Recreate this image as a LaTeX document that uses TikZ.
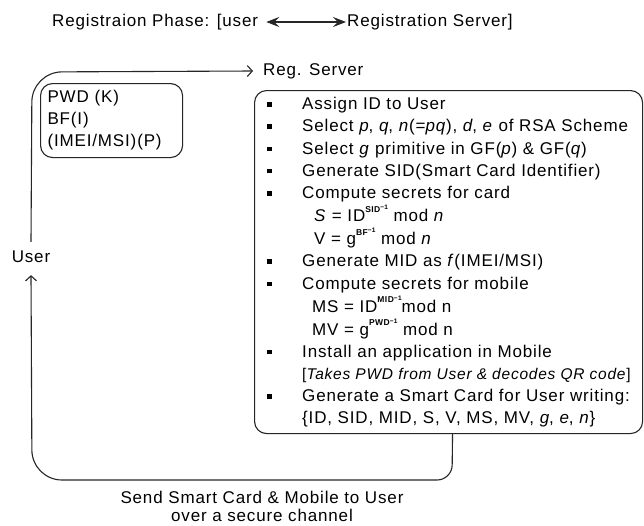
\documentclass[tikz,border=0pt]{standalone}
\usepackage{fontspec}
\setmainfont{Liberation Sans}[LetterSpace=5]
\usetikzlibrary{arrows.meta}
\newcommand{\supx}[1]{\raisebox{0.55em}{\fontsize{8.5}{8.5}\selectfont\bfseries #1\raisebox{0.3em}{\fontsize{6.5}{6.5}\selectfont −1}}}
\newcommand{\bul}{\rule[3pt]{4.5pt}{4.5pt}}
\begin{document}
\begin{tikzpicture}[x=1pt,y=-1pt,
  every node/.style={inner sep=0pt},
  txt/.style={font=\fontsize{17}{22}\selectfont, anchor=west},
  box/.style={draw=black!85, line width=1.1pt, rounded corners=12pt, anchor=north west},
  conn/.style={draw=black!85, line width=1.1pt},
  barb/.style={-{Straight Barb[length=5pt,width=11pt,line width=1.1pt]}},
  dbl/.style={{Stealth[length=13pt,width=10pt,inset=5pt]}-{Stealth[length=13pt,width=10pt,inset=5pt]}}]
\fill[white] (0,0) rectangle (644,525);
\useasboundingbox (0,0) rectangle (644,525);

% title
\node[txt] (t1) at (52,22) {Registraion Phase: [user};
\node[txt] (t2) at (347,22) {Registration Server]};
\draw[conn, dbl] ([xshift=8pt]t1.east) -- ([xshift=-1pt]t2.west);

% reg server label
\node[txt] (reg) at (263,71) {Reg. Server};

% credentials box
\node[box, align=left, font=\fontsize{17}{22}\selectfont, minimum width=142pt, minimum height=74pt,
      text width=128pt, inner xsep=7pt] (cred) at (40,83) {PWD (K)\\BF(I)\\(IMEI/MSI)(P)};

% user
\node[txt, anchor=center] (user) at (31,257) {User};

% server box
\node[box, minimum width=388pt, minimum height=343pt] (srv) at (254,90) {};
\node[anchor=north west, font=\fontsize{17}{22.2}\selectfont] (steps) at (267,94) {%
\begin{tabular}{@{}p{35pt}@{}l@{}}
\bul & Assign ID to User\\
\bul & Select \textit{p}, \textit{q}, \textit{n}(=\textit{pq}), \textit{d}, \textit{e} of RSA Scheme\\
\bul & Select \textit{g} primitive in GF(\textit{p}) \& GF(\textit{q})\\
\bul & Generate SID(Smart Card Identifier)\\
\bul & Compute secrets for card\\
 & \hspace{12pt}\textit{S} = ID\supx{SID} mod \textit{n}\\
 & \hspace{12pt}V = g\supx{BF} mod \textit{n}\\
\bul & Generate MID as \textit{f}(IMEI/MSI)\\
\bul & Compute secrets for mobile\\
 & \hspace{10pt}MS = ID\supx{MID}mod n\\
 & \hspace{10pt}MV = g\supx{PWD} mod n\\
\bul & Install an application in Mobile\\
 & {\fontsize{15.5}{22.2}\selectfont[\textit{Takes PWD from User \& decodes QR code}]}\\
\bul & Generate a Smart Card for User writing:\\
 & \{ID, SID, MID, S, V, MS, MV, \textit{g}, \textit{e}, \textit{n}\}
\end{tabular}};

% bottom label
\node[align=center, font=\fontsize{17}{18}\selectfont] (send) at (262,506) {Send Smart Card \& Mobile to User\\over a secure channel};

% connectors
\coordinate (k0) at (32,72);
\coordinate (k1) at (452,480);
\coordinate (k2) at (32,480);
\draw[conn, barb, rounded corners=30pt] ([yshift=9pt]user.north) -- (k0) -- ([xshift=-10pt]reg.west);
\draw[conn, barb] ([xshift=4pt]srv.south) [rounded corners=15pt] -- (k1) [rounded corners=30pt] -- (k2) -- ([yshift=-12pt]user.south);
\end{tikzpicture}
\end{document}
